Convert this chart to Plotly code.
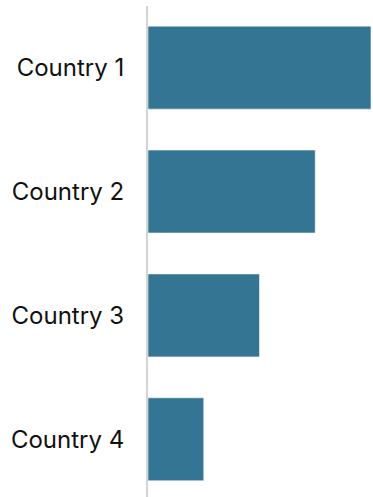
import plotly.graph_objects as go

categories = ["Country 1", "Country 2", "Country 3", "Country 4"]
values = [4, 3, 2, 1]

fig = go.Figure(go.Bar(
    x=values, y=categories, orientation="h",
    marker=dict(color="#357594", line=dict(color="rgba(255,255,255,0.55)", width=1)),
    hoverinfo="skip",
))

fig.update_layout(
    width=373, height=497,
    margin=dict(l=148, r=0, t=6, b=0),
    plot_bgcolor="white", paper_bgcolor="white",
    bargap=0.33,
    showlegend=False,
    font=dict(family="Inter, Roboto, sans-serif", size=24, color="#111111"),
)
fig.update_xaxes(range=[0, 4.036], showgrid=False, zeroline=False, showticklabels=False, showline=False)
fig.update_yaxes(range=[3.466, -0.4976], showgrid=False, zeroline=False,
                 showline=True, linecolor="#d4d4d4", linewidth=2,
                 ticks="", ticklabelstandoff=17)

fig.write_html(
    "out.html",
    config={"displayModeBar": False, "staticPlot": True},
    post_script="document.body.style.margin='0';document.body.style.overflow='hidden';document.documentElement.style.overflow='hidden';",
)
